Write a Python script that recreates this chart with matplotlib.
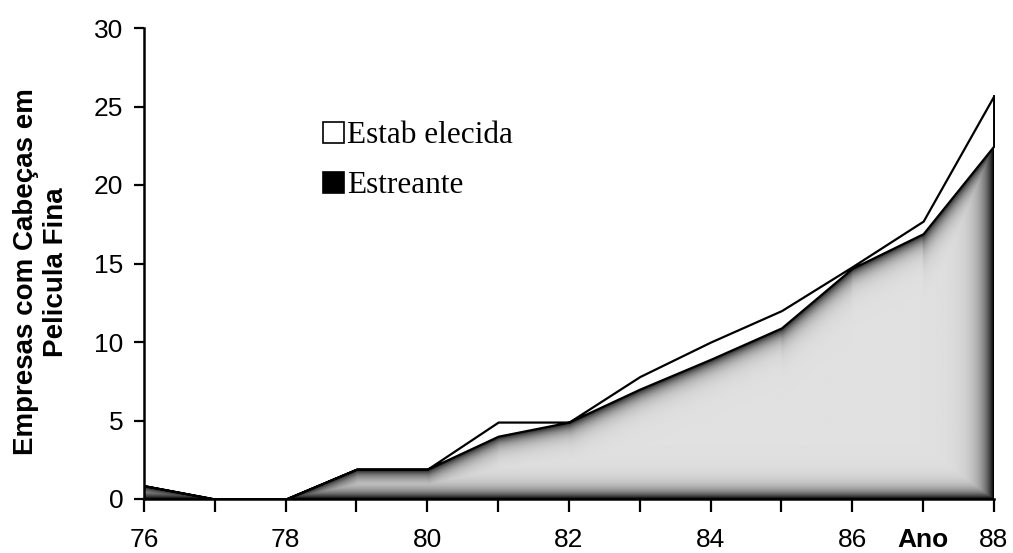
import numpy as np
import matplotlib
matplotlib.use("Agg")
import matplotlib.pyplot as plt
from matplotlib.patches import Polygon, Rectangle

# firms with thin-film heads, by year
anos = [76, 77, 78, 79, 80, 81, 82, 83, 84, 85, 86, 87, 88]
estreante = [0.85, 0, 0, 1.9, 1.9, 4.0, 4.9, 7.0, 8.9, 10.9, 14.7, 16.9, 22.5]
total = [0.85, 0, 0, 1.9, 1.9, 4.9, 4.9, 7.8, 10.0, 12.0, 14.8, 17.7, 25.7]
xticks = list(range(76, 89))
xticklabels = ["76", "", "78", "", "80", "", "82", "", "84", "", "86", "Ano", "88"]
yticks = [0, 5, 10, 15, 20, 25, 30]

W, H = 1013, 553
fig = plt.figure(figsize=(W / 100, H / 100), dpi=100, facecolor="white")
ax = fig.add_axes([144 / W, 1 - 499 / H, 850 / W, 471 / H])
ax.set_xlim(76, 88)
ax.set_ylim(0, 30)

# pixel scale of the data units, used for the shaded fill
px_x = 850 / 12
px_y = 471 / 30

# shaded fill for the entrant area: dark at the borders, light in the middle
nx, ny = 1200, 700
xg = np.linspace(76, 88, nx)
yg = np.linspace(0, 26, ny)
X, Y = np.meshgrid(xg, yg)
curve = np.interp(xg, anos, estreante)
slope = np.gradient(curve, xg) * px_y / px_x
d_top = (curve[None, :] - Y) * px_y / np.sqrt(1 + slope[None, :] ** 2)
d_bot = Y * px_y
d_right = (88 - X) * px_x
dark = np.maximum.reduce([
    np.exp(-np.clip(d_top, 0, None) / 8.0),
    np.exp(-d_bot / 8.0),
    np.exp(-d_right / 11.0),
])
light, deep = 0.88, 0.0
shade = light - (light - deep) * dark
im = ax.imshow(shade, cmap="gray", vmin=0, vmax=1, origin="lower",
               extent=(76, 88, 0, 26), aspect="auto", interpolation="bilinear",
               zorder=1)
verts = list(zip(anos, estreante)) + [(88, 0), (76, 0)]
clip = Polygon(verts, closed=True, facecolor="none", edgecolor="none",
               transform=ax.transData)
ax.add_patch(clip)
im.set_clip_path(clip)

# established firms on top, white with a black outline
ax.fill_between(anos, estreante, total, facecolor="white", edgecolor="black",
                linewidth=1.6, zorder=2)
ax.plot([88, 88], [0, total[-1]], color="black", linewidth=2.0, zorder=3)

# axes styling
for side in ("top", "right"):
    ax.spines[side].set_visible(False)
for side in ("left", "bottom"):
    ax.spines[side].set_linewidth(1.8)
    ax.spines[side].set_zorder(4)
ax.set_xticks(xticks)
ax.set_xticklabels(xticklabels)
ax.set_yticks(yticks)
ax.tick_params(axis="x", direction="out", length=9, width=1.6, labelsize=19, pad=12)
ax.tick_params(axis="y", direction="out", length=7, width=1.6, labelsize=19, pad=8)
for lab in ax.get_yticklabels() + ax.get_xticklabels():
    lab.set_family("Liberation Sans")
for lab in ax.get_xticklabels():
    if lab.get_text() == "Ano":
        lab.set_fontweight("bold")

fig.text(41 / W, 1 - 272 / H, "Empresas com Cabeças em\nPelicula Fina",
         family="Liberation Sans", fontweight="bold", fontsize=20,
         rotation=90, ha="center", va="center", multialignment="center",
         linespacing=1.2)

# legend drawn as boxes and serif text
ax.add_patch(Rectangle((323 / W, 1 - 143 / H), 21 / W, 21 / H, transform=fig.transFigure,
                       facecolor="white", edgecolor="black", linewidth=1.2, zorder=5,
                       clip_on=False))
ax.add_patch(Rectangle((323 / W, 1 - 193 / H), 21 / W, 21 / H, transform=fig.transFigure,
                       facecolor="black", edgecolor="black", linewidth=1.2, zorder=5,
                       clip_on=False))
fig.text(347 / W, 1 - 143 / H, "Estab elecida", family="Liberation Serif",
         fontsize=22.5, va="baseline", ha="left")
fig.text(347 / W, 1 - 193 / H, "Estreante", family="Liberation Serif",
         fontsize=22.5, va="baseline", ha="left")

fig.savefig("out.png", dpi=100, facecolor="white")
